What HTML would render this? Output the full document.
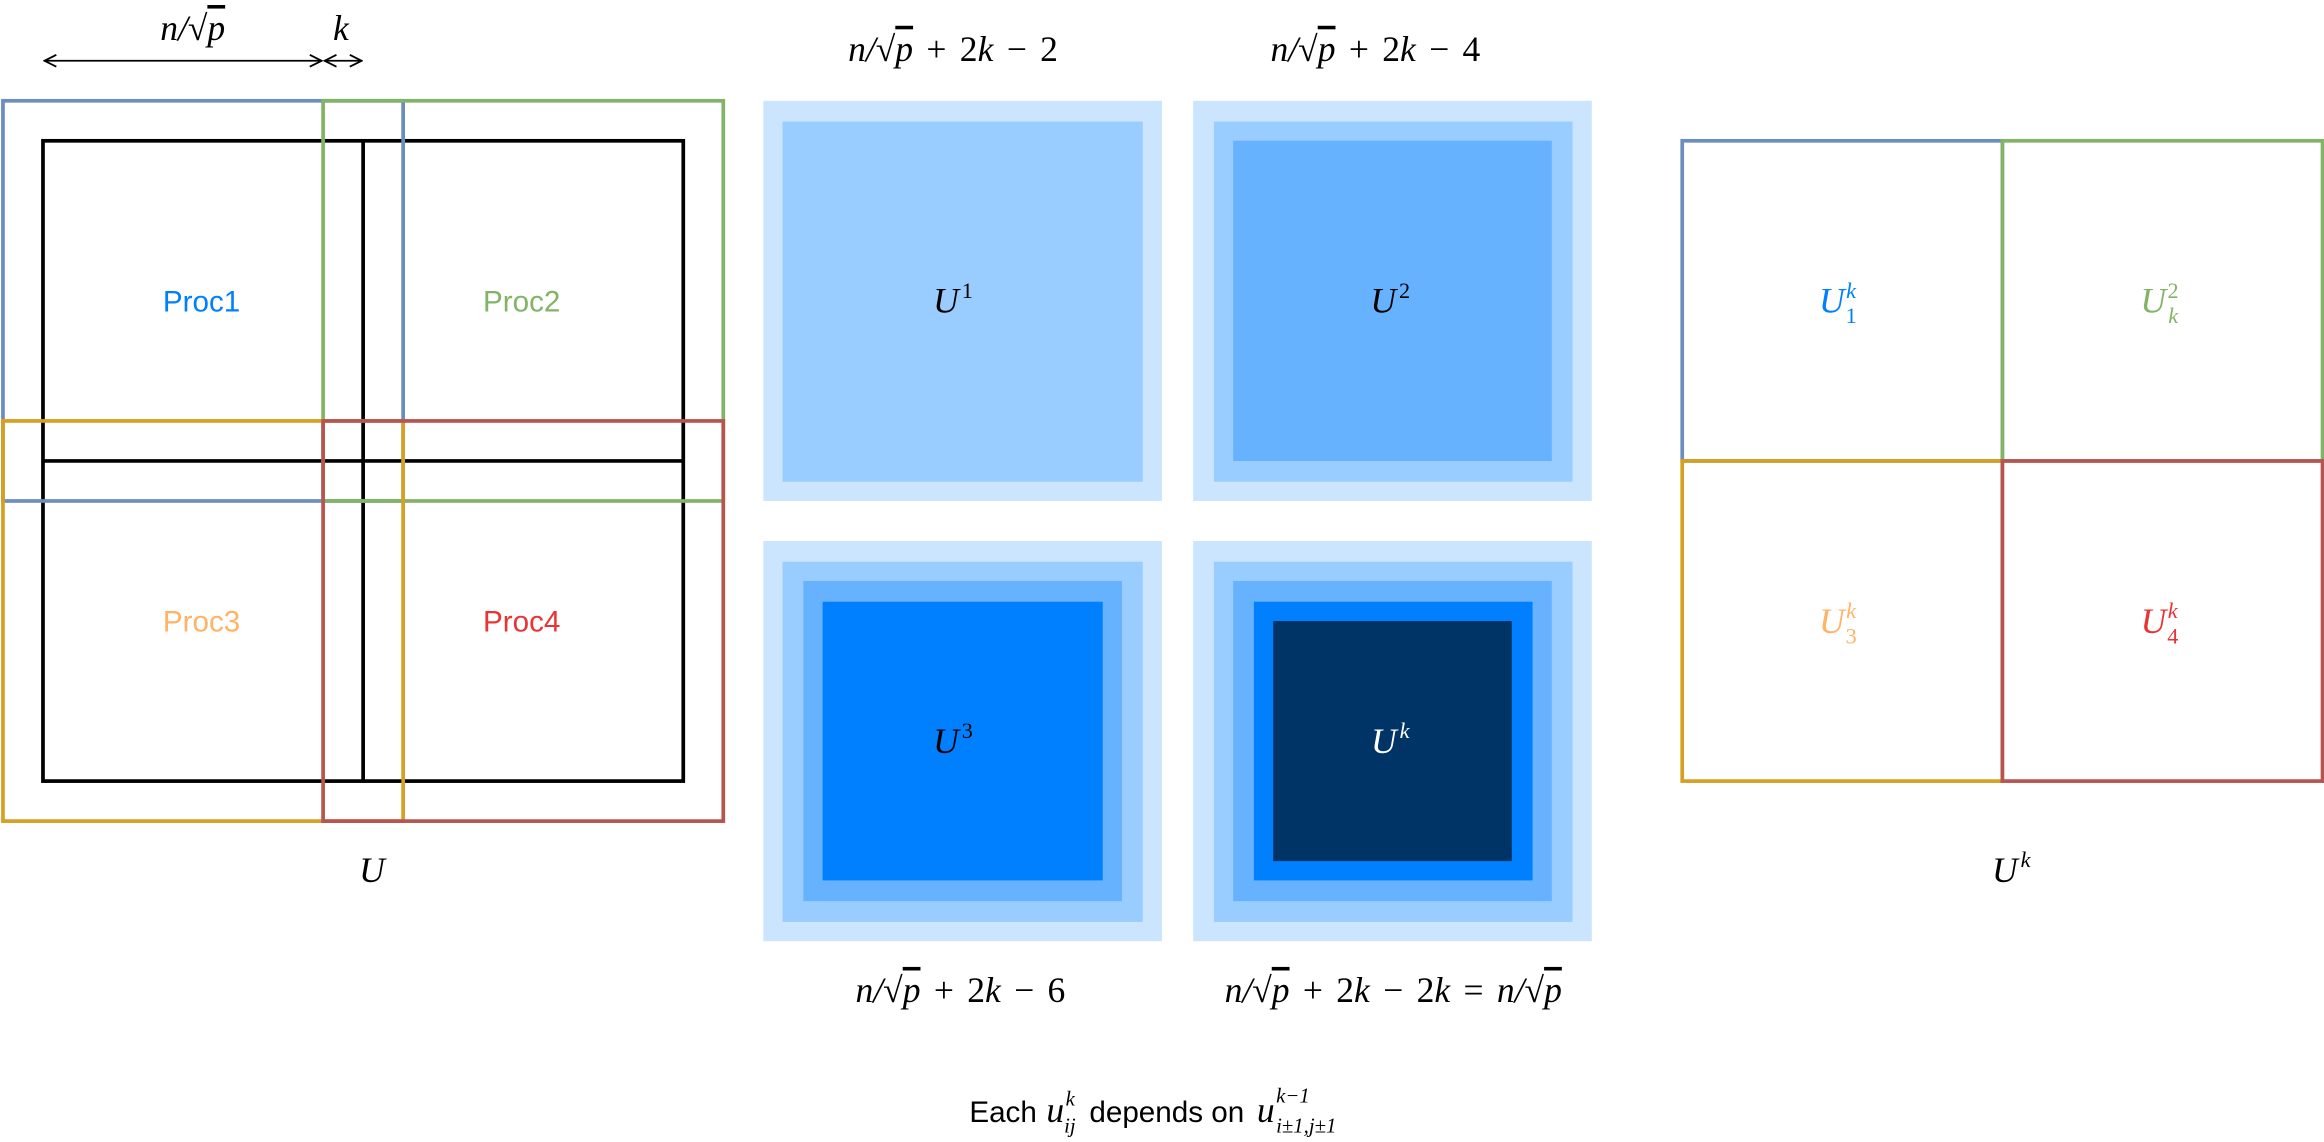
<!DOCTYPE html>
<html><head><meta charset="utf-8"><style>
html,body{margin:0;padding:0;background:#fff;}
svg{display:block}
.m{font-family:"Liberation Serif",serif;font-style:italic;font-size:24px;fill:#000;}
.n{font-style:normal;}
.p{font-family:"Liberation Sans",sans-serif;font-size:20px;}
.s{font-family:"Liberation Serif",serif;font-style:italic;font-size:14px;fill:#000;}
</style></head><body>
<svg width="2324" height="1142" viewBox="0 0 1568 770.5">
<defs><marker id="ah" markerWidth="10" markerHeight="10" refX="9" refY="5" orient="auto-start-reverse" markerUnits="userSpaceOnUse"><path d="M1,1 L9,5 L1,9" fill="none" stroke="#000" stroke-width="1.2"/></marker></defs>
<g fill="none">
<line x1="30" y1="41" x2="217" y2="41" stroke="#000" stroke-width="1.2" marker-start="url(#ah)" marker-end="url(#ah)"/>
<line x1="219" y1="41" x2="244" y2="41" stroke="#000" stroke-width="1.2" marker-start="url(#ah)" marker-end="url(#ah)"/>
<rect x="29" y="95" width="432" height="432" stroke="#000" stroke-width="2.5"/>
<line x1="245" y1="95" x2="245" y2="527" stroke="#000" stroke-width="2.5"/>
<line x1="29" y1="311" x2="461" y2="311" stroke="#000" stroke-width="2.5"/>
<rect x="2" y="68" width="270" height="270" stroke="#6c8ebf" stroke-width="2.5"/>
<rect x="218" y="68" width="270" height="270" stroke="#82b366" stroke-width="2.5"/>
<rect x="2" y="284" width="270" height="270" stroke="#d6a022" stroke-width="2.5"/>
<rect x="218" y="284" width="270" height="270" stroke="#b85450" stroke-width="2.5"/>
</g>
<text class="m" x="130" y="27" text-anchor="middle">n/√<tspan text-decoration="overline">p</tspan></text>
<text class="m" x="230" y="27" text-anchor="middle">k</text>
<text class="p" x="136" y="210" text-anchor="middle" fill="#007fff">Proc1</text>
<text class="p" x="352" y="210" text-anchor="middle" fill="#82b366">Proc2</text>
<text class="p" x="136" y="426" text-anchor="middle" fill="#ffb366">Proc3</text>
<text class="p" x="352" y="426" text-anchor="middle" fill="#ea3333">Proc4</text>
<text class="m" x="251" y="595" text-anchor="middle">U</text>

<g>
<rect x="515" y="68" width="269" height="270" fill="#cce5ff"/>
<rect x="528" y="82" width="243" height="243" fill="#99ccff"/>
</g>
<g>
<rect x="805" y="68" width="269" height="270" fill="#cce5ff"/>
<rect x="819" y="82" width="242" height="243" fill="#99ccff"/>
<rect x="832" y="95" width="215" height="216" fill="#66b2ff"/>
</g>
<g>
<rect x="515" y="365" width="269" height="270" fill="#cce5ff"/>
<rect x="528" y="379" width="243" height="243" fill="#99ccff"/>
<rect x="542" y="392" width="215" height="216" fill="#66b2ff"/>
<rect x="555" y="406" width="189" height="188" fill="#007fff"/>
</g>
<g>
<rect x="805" y="365" width="269" height="270" fill="#cce5ff"/>
<rect x="819" y="379" width="242" height="243" fill="#99ccff"/>
<rect x="832" y="392" width="215" height="216" fill="#66b2ff"/>
<rect x="846" y="406" width="188" height="188" fill="#007fff"/>
<rect x="859" y="419" width="161" height="162" fill="#003366"/>
</g>
<text class="m" x="643" y="41" text-anchor="middle" word-spacing="3">n/√<tspan text-decoration="overline">p</tspan><tspan class="n"> + 2</tspan>k<tspan class="n"> − 2</tspan></text>
<text class="m" x="928" y="41" text-anchor="middle" word-spacing="3">n/√<tspan text-decoration="overline">p</tspan><tspan class="n"> + 2</tspan>k<tspan class="n"> − 4</tspan></text>
<text class="m" x="648" y="676" text-anchor="middle" word-spacing="3">n/√<tspan text-decoration="overline">p</tspan><tspan class="n"> + 2</tspan>k<tspan class="n"> − 6</tspan></text>
<text class="m" x="940" y="676" text-anchor="middle" word-spacing="3">n/√<tspan text-decoration="overline">p</tspan><tspan class="n"> + 2</tspan>k<tspan class="n"> − 2</tspan>k<tspan class="n"> = </tspan>n/√<tspan text-decoration="overline">p</tspan></text>
<text class="m" x="643" y="211" text-anchor="middle">U<tspan class="n" font-size="15" dy="-10" dx="2">1</tspan></text>
<text class="m" x="938" y="211" text-anchor="middle">U<tspan class="n" font-size="15" dy="-10" dx="2">2</tspan></text>
<text class="m" x="643" y="508" text-anchor="middle">U<tspan class="n" font-size="15" dy="-10" dx="2">3</tspan></text>
<text class="m" x="938" y="508" text-anchor="middle" style="fill:#fff">U<tspan font-size="15" dy="-10" dx="2">k</tspan></text>

<g fill="none" stroke-width="2.5">
<rect x="1135" y="95" width="216" height="216" stroke="#6c8ebf"/>
<rect x="1351" y="95" width="216" height="216" stroke="#82b366"/>
<rect x="1135" y="311" width="216" height="216" stroke="#d6a022"/>
<rect x="1351" y="311" width="216" height="216" stroke="#b85450"/>
</g>
<text class="m" x="1240" y="211" text-anchor="middle" style="fill:#007fff">U<tspan font-size="15" dy="-10" dx="1">k</tspan><tspan class="n" font-size="15" dx="-7" dy="17">1</tspan></text>
<text class="m" x="1457" y="211" text-anchor="middle" style="fill:#82b366">U<tspan class="n" font-size="15" dy="-10" dx="1">2</tspan><tspan font-size="15" dx="-7" dy="17">k</tspan></text>
<text class="m" x="1240" y="427" text-anchor="middle" style="fill:#ffb366">U<tspan font-size="15" dy="-10" dx="1">k</tspan><tspan class="n" font-size="15" dx="-7" dy="17">3</tspan></text>
<text class="m" x="1457" y="427" text-anchor="middle" style="fill:#ea3333">U<tspan font-size="15" dy="-10" dx="1">k</tspan><tspan class="n" font-size="15" dx="-7" dy="17">4</tspan></text>
<text class="m" x="1357" y="595" text-anchor="middle">U<tspan font-size="15" dy="-10" dx="2">k</tspan></text>

<g>
<text class="p" x="654" y="757">Each</text>
<text class="m" x="706" y="757">u</text>
<text class="s" x="719" y="746">k</text>
<text class="s" x="718" y="764">ij</text>
<text class="p" x="735" y="757">depends on</text>
<text class="m" x="848" y="757">u</text>
<text class="s" x="861" y="744">k−1</text>
<text class="s" x="861" y="764">i±1,j±1</text>
</g>
</svg>
</body></html>
